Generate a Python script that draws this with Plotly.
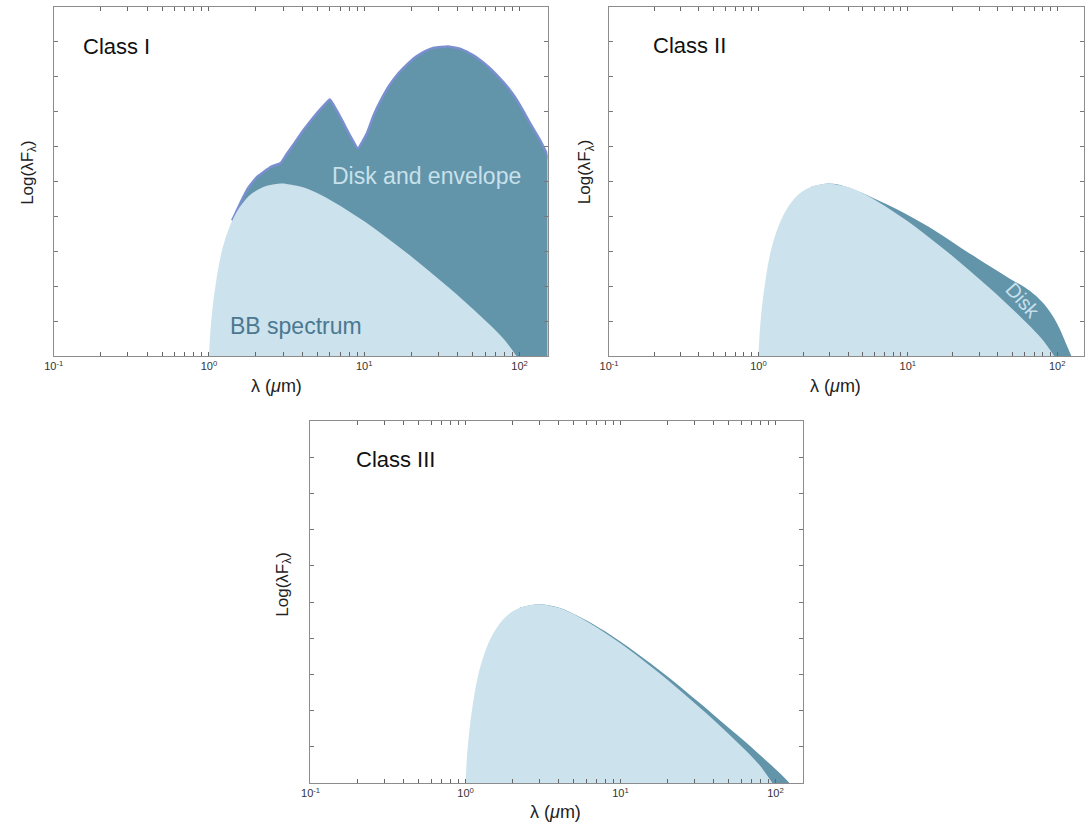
import plotly.graph_objects as go

W, H = 1087, 826

# ---------------- data ----------------
# wavelength in micron, log(lambda F_lambda) in axis units (0..10)
bb_wl = [1.000, 1.023, 1.059, 1.122, 1.202, 1.318, 1.462, 1.660, 1.905, 2.239,
         2.630, 2.951, 3.16, 3.98, 5.01, 6.31, 7.94, 10.0, 12.6, 15.8, 20.0,
         25.1, 31.6, 39.8, 50.1, 63.1, 79.4, 95.5]
bb_v = [0.0, 0.75, 1.45, 2.25, 2.95, 3.55, 4.02, 4.40, 4.67, 4.84,
        4.92, 4.94, 4.93, 4.84, 4.66, 4.42, 4.15, 3.86, 3.54, 3.21, 2.86,
        2.50, 2.13, 1.75, 1.35, 0.93, 0.48, 0.0]

# Class I : disk and envelope
c1_wl = [1.41, 1.56, 1.78, 2.04, 2.51, 2.90, 3.16, 3.55, 3.98, 4.47, 5.01, 5.50,
         6.01, 6.61, 7.18, 8.13, 9.10, 10.4, 11.5, 12.8, 14.5, 16.6, 19.1, 21.6,
         25.1, 28.2, 34.7, 42.7, 50.1, 55.7, 63.1, 72.4, 83.2, 93.3, 104.7, 117.5,
         134.9, 151.4, 166.0]
c1_v = [3.88, 4.30, 4.80, 5.13, 5.42, 5.53, 5.78, 6.10, 6.42, 6.71, 6.98, 7.18,
        7.35, 7.05, 6.76, 6.30, 5.95, 6.38, 6.90, 7.33, 7.75, 8.10, 8.38, 8.58,
        8.75, 8.83, 8.87, 8.78, 8.62, 8.48, 8.28, 8.02, 7.72, 7.42, 7.05, 6.65,
        6.20, 5.75, 5.35]

# Class II : disk
c2_wl = [2.24, 2.95, 3.80, 5.01, 6.31, 8.13, 10.5, 13.8, 17.8, 22.9, 29.5, 38.0,
         47.9, 60.3, 72.4, 85.1, 95.5, 104.7, 112.2, 120.2, 124.5]
c2_v = [4.84, 4.94, 4.86, 4.66, 4.46, 4.24, 3.99, 3.70, 3.40, 3.09, 2.79, 2.49,
        2.22, 1.98, 1.72, 1.40, 1.08, 0.75, 0.45, 0.15, 0.0]

# Class III : thin excess
c3_wl = [2.24, 2.95, 3.98, 5.62, 7.94, 12.6, 20.0, 31.6, 44.7, 64.6, 89.1, 107.2, 123.0]
c3_v = [4.84, 4.94, 4.85, 4.56, 4.19, 3.60, 2.95, 2.25, 1.70, 1.12, 0.58, 0.26, 0.0]

class_labels = ["Class I", "Class II", "Class III"]
decades = [0.1, 1, 10, 100]
decade_text = ["10<sup>-1</sup>", "10<sup>0</sup>", "10<sup>1</sup>", "10<sup>2</sup>"]

# ---------------- style ----------------
DARK = "#6294aa"
LIGHT = "#cce2ec"
OUTLINE = "#7a8fcf"
AXIS = "#8c8c8c"
FONT = "Liberation Sans, Arial, sans-serif"

# panel boxes in pixels: left, right, top, bottom
boxes = [(45, 543, 7, 356), (605, 1084, 7, 356), (304, 801, 421, 783)]

def px_x(p):
    return p / W

def px_y(p):
    return 1 - p / H

fig = go.Figure()

totals = [(c1_wl, c1_v), (c2_wl, c2_v), (c3_wl, c3_v)]

for i, (twl, tv) in enumerate(totals):
    xa = "x" if i == 0 else f"x{i+1}"
    ya = "y" if i == 0 else f"y{i+1}"
    if i == 0:
        line = dict(color=OUTLINE, width=2.5, shape="spline", smoothing=0.4)
    else:
        line = dict(color=DARK, width=0, shape="spline", smoothing=1.0)
    fig.add_trace(go.Scatter(x=twl, y=tv, xaxis=xa, yaxis=ya, mode="lines",
                             fill="tozeroy", fillcolor=DARK, line=line,
                             hoverinfo="skip", showlegend=False))
    fig.add_trace(go.Scatter(x=bb_wl, y=bb_v, xaxis=xa, yaxis=ya, mode="lines",
                             fill="tozeroy", fillcolor=LIGHT,
                             line=dict(color=LIGHT, width=0, shape="spline", smoothing=1.0),
                             hoverinfo="skip", showlegend=False))

# tick values: all 1..9 x decades, labels only at decades
tickvals = []
ticktext = []
for d in [0.1, 1, 10]:
    for k in range(1, 10):
        v = round(d * k, 6)
        tickvals.append(v)
        ticktext.append(decade_text[decades.index(d)] if k == 1 else "")
tickvals.append(100)
ticktext.append(decade_text[3])

layout = dict(width=W, height=H, margin=dict(l=0, r=0, t=0, b=0),
              paper_bgcolor="white", plot_bgcolor="white", showlegend=False)

for i, (l, r, t, b) in enumerate(boxes):
    sx = "" if i == 0 else str(i + 1)
    layout["xaxis" + sx] = dict(
        type="log", range=[-1.0005, 2.18], domain=[px_x(l), px_x(r)],
        anchor="y" + sx, tickvals=tickvals, ticktext=ticktext,
        ticks="inside", ticklen=4, tickwidth=1, tickcolor="#666",
        showline=True, linecolor=AXIS, linewidth=1, mirror="ticks",
        showgrid=False, zeroline=False,
        tickfont=dict(family=FONT, size=11, color="#333"))
    layout["yaxis" + sx] = dict(
        range=[0, 10], domain=[px_y(b), px_y(t)], anchor="x" + sx,
        tickvals=list(range(0, 11)), showticklabels=False,
        ticks="inside", ticklen=4, tickwidth=1, tickcolor="#777",
        showline=True, linecolor=AXIS, linewidth=1, mirror="ticks",
        showgrid=False, zeroline=False)

fig.update_layout(**layout)

def ann(text, x, y, size, color, angle=0):
    fig.add_annotation(text=text, x=px_x(x), y=px_y(y), xref="paper", yref="paper",
                       showarrow=False, xanchor="center", yanchor="middle",
                       textangle=angle, font=dict(family=FONT, size=size, color=color))

# class labels
ann(class_labels[0], 108, 46, 22, "#111")
ann(class_labels[1], 686, 45, 22, "#111")
ann(class_labels[2], 390, 459, 22, "#111")

# in-plot labels
ann("Disk and envelope", 421, 176, 23, "#c8e1eb")
ann("BB spectrum", 289, 326, 23, "#4b7891")
ann("Disk", 1022, 300, 20, "#c8e1eb", angle=48)

# axis titles
xt = "λ (<i>μ</i>m)"
yt = "Log(λF<sub>λ</sub>)"
ann(xt, 270, 386, 18, "#222")
ann(xt, 833, 386, 18, "#222")
ann(xt, 551, 812, 18, "#222")
ann(yt, 20, 172, 17, "#222", angle=-90)
ann(yt, 582, 172, 17, "#222", angle=-90)
ann(yt, 277, 584, 17, "#222", angle=-90)

fig.write_html("out.html")
